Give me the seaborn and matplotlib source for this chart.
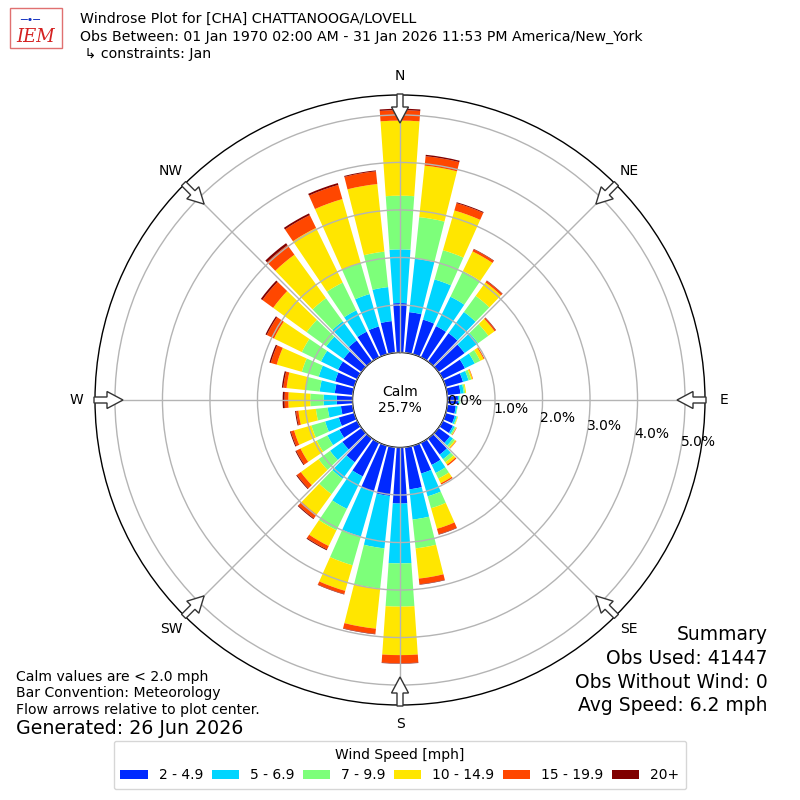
import numpy as np
import matplotlib
matplotlib.use("Agg")
import matplotlib.pyplot as plt
import seaborn as sns
from matplotlib.patches import FancyArrow, Rectangle

sns.set_theme(style="white")
plt.rcParams["font.family"] = ["DejaVu Sans"]
plt.rcParams["text.color"] = "black"
plt.rcParams["xtick.color"] = "black"
plt.rcParams["ytick.color"] = "black"
plt.rcParams["axes.labelcolor"] = "black"

# ---------------- data (percent of observations) ----------------
directions = list(range(0, 360, 10))
speed_labels = ["2 - 4.9", "5 - 6.9", "7 - 9.9", "10 - 14.9", "15 - 19.9", "20+"]

s_2_5 = [1.04, 0.86, 0.76, 0.73, 0.74, 0.68, 0.52, 0.38, 0.28, 0.22, 0.18, 0.20,
         0.24, 0.30, 0.42, 0.52, 0.61, 0.89, 1.18, 1.03, 1.01, 0.79, 0.62, 0.50,
         0.42, 0.34, 0.25, 0.33, 0.38, 0.42, 0.45, 0.47, 0.55, 0.60, 0.61, 0.67]
s_5_7 = [1.13, 1.13, 0.88, 0.69, 0.55, 0.35, 0.23, 0.12, 0.07, 0.03, 0.03, 0.04,
         0.04, 0.08, 0.12, 0.19, 0.50, 0.64, 1.26, 1.11, 0.98, 0.76, 0.43, 0.32,
         0.28, 0.30, 0.28, 0.28, 0.32, 0.36, 0.40, 0.45, 0.50, 0.50, 0.71, 0.72]
s_7_10 = [1.13, 0.88, 0.64, 0.60, 0.42, 0.27, 0.13, 0.06, 0.03, 0.02, 0.01, 0.02,
          0.03, 0.05, 0.08, 0.13, 0.26, 0.61, 0.91, 0.85, 0.63, 0.50, 0.40, 0.30,
          0.25, 0.30, 0.25, 0.28, 0.30, 0.37, 0.45, 0.51, 0.60, 0.65, 0.68, 0.75]
s_10_15 = [1.58, 1.09, 0.87, 0.46, 0.35, 0.16, 0.08, 0.03, 0.02, 0.00, 0.00, 0.01,
           0.01, 0.03, 0.06, 0.11, 0.45, 0.64, 1.02, 0.85, 0.56, 0.37, 0.53, 0.46,
           0.38, 0.38, 0.37, 0.46, 0.40, 0.55, 0.65, 0.87, 1.13, 1.28, 1.40, 1.43]
s_15_20 = [0.22, 0.20, 0.16, 0.05, 0.04, 0.03, 0.02, 0.01, 0.00, 0.00, 0.00, 0.00,
           0.01, 0.01, 0.03, 0.03, 0.12, 0.12, 0.17, 0.11, 0.07, 0.08, 0.10, 0.10,
           0.10, 0.07, 0.05, 0.08, 0.07, 0.13, 0.17, 0.28, 0.25, 0.30, 0.31, 0.27]
s_20p = [0.03, 0.03, 0.02, 0.01, 0.01, 0.01, 0.00, 0.00, 0.00, 0.00, 0.00, 0.00,
         0.00, 0.00, 0.00, 0.00, 0.01, 0.01, 0.01, 0.01, 0.01, 0.02, 0.02, 0.02,
         0.02, 0.02, 0.02, 0.04, 0.03, 0.03, 0.03, 0.04, 0.05, 0.04, 0.04, 0.02]
speed_series = [s_2_5, s_5_7, s_7_10, s_10_15, s_15_20, s_20p]

calm_pct = 25.7
r_ticks = [0, 1, 2, 3, 4, 5]
compass_names = ["N", "NE", "E", "SE", "S", "SW", "W", "NW"]
compass_angles = [0, 45, 90, 135, 180, 225, 270, 315]

colors = plt.get_cmap("jet")(np.linspace(0, 1, 7)[1:])

# ---------------- figure ----------------
W = 800.0
fig = plt.figure(figsize=(8, 8), dpi=100)
fig.patch.set_facecolor("white")
ax = fig.add_axes([0.11875, 0.11875, 0.7625, 0.7625], projection="polar")
ax.set_facecolor("white")
ax.set_theta_zero_location("N")
ax.set_theta_direction(-1)
ax.set_rorigin(-1.0)
ax.set_ylim(0, 5.42)

theta = np.deg2rad(directions)
bottom = np.zeros(len(directions))
for vals, col, lab in zip(speed_series, colors, speed_labels):
    vals = np.array(vals)
    ax.bar(theta, vals, width=np.deg2rad(8), bottom=bottom, color=col,
           label=lab, edgecolor="none", linewidth=0, zorder=1, align="center")
    bottom += vals

ax.set_axisbelow(False)
ax.set_yticks(r_ticks)
ax.set_yticklabels([f"{v:.1f}%" for v in r_ticks], fontsize=10, color="black")
ax.set_rlabel_position(100)
ax.set_xticks(np.deg2rad(compass_angles))
ax.set_xticklabels([])
ax.grid(True, color="#b4b4b4", linewidth=1.0)
for name, sp in ax.spines.items():
    sp.set_color("black")
    sp.set_linewidth(1.0)

# direction labels and flow arrows
cx, cy = 400.0, 400.0
for name, ang in zip(compass_names, compass_angles):
    a = np.deg2rad(ang)
    sx, sy = np.sin(a), np.cos(a)
    lx, ly = cx + 324 * sx, cy - 324 * sy
    fig.text(lx / W, 1 - ly / W, name, ha="center", va="center", fontsize=10)
    x0, y0 = cx + 306 * sx, cy - 306 * sy
    x1, y1 = cx + 277 * sx, cy - 277 * sy
    arr = FancyArrow(x0 / W, 1 - y0 / W, (x1 - x0) / W, -(y1 - y0) / W,
                     width=6 / W, head_width=17 / W, head_length=16 / W,
                     length_includes_head=True, transform=fig.transFigure,
                     facecolor="white", edgecolor="#333333", linewidth=1.0,
                     zorder=10)
    fig.add_artist(arr)

fig.text(0.5, 0.5, f"Calm\n{calm_pct}%", ha="center", va="center",
         fontsize=10, linespacing=1.2)

# header
fig.text(80 / W, 1 - 19 / W, "Windrose Plot for [CHA] CHATTANOOGA/LOVELL",
         ha="left", va="center", fontsize=10.15)
fig.text(80 / W, 1 - 37 / W,
         "Obs Between: 01 Jan 1970 02:00 AM - 31 Jan 2026 11:53 PM America/New_York",
         ha="left", va="center", fontsize=10.15)
fig.text(80 / W, 1 - 54 / W, " \u21b3 constraints: Jan",
         ha="left", va="center", fontsize=10.15)

# logo
fig.add_artist(Rectangle((10 / W, 1 - 48 / W), 52 / W, 40 / W,
                         transform=fig.transFigure, facecolor="white",
                         edgecolor="#e07070", linewidth=1.0))
fig.text(36 / W, 1 - 37 / W, "IEM", ha="center", va="center", fontsize=13,
         color="#d42020", style="italic", family="DejaVu Serif")
fig.text(30 / W, 1 - 20 / W, "\u2500\u2022\u2500", ha="center", va="center",
         fontsize=8, color="#1030c0")

# bottom-left notes
notes = ["Calm values are < 2.0 mph", "Bar Convention: Meteorology",
         "Flow arrows relative to plot center."]
for i, t in enumerate(notes):
    fig.text(16 / W, 1 - (677 + 16.5 * i) / W, t, ha="left", va="center",
             fontsize=10.1)
fig.text(16 / W, 1 - 729 / W, "Generated: 26 Jun 2026", ha="left",
         va="center", fontsize=13.7)

# summary
summary = ["Summary", "Obs Used: 41447", "Obs Without Wind: 0",
           "Avg Speed: 6.2 mph"]
for i, t in enumerate(summary):
    fig.text(768 / W, 1 - (635 + 23.5 * i) / W, t, ha="right", va="center",
             fontsize=13.5)

# legend
handles, labels = ax.get_legend_handles_labels()
leg = fig.legend(handles, labels, loc="center", ncol=6,
                 bbox_to_anchor=(400 / W, 1 - 765 / W), fontsize=10,
                 title="Wind Speed [mph]", title_fontsize=10, frameon=True,
                 handlelength=1.95, handleheight=0.7, columnspacing=0.62,
                 handletextpad=0.8, borderpad=0.5)
leg.get_frame().set_edgecolor("#cccccc")

fig.savefig("out.png", dpi=100, facecolor="white")
